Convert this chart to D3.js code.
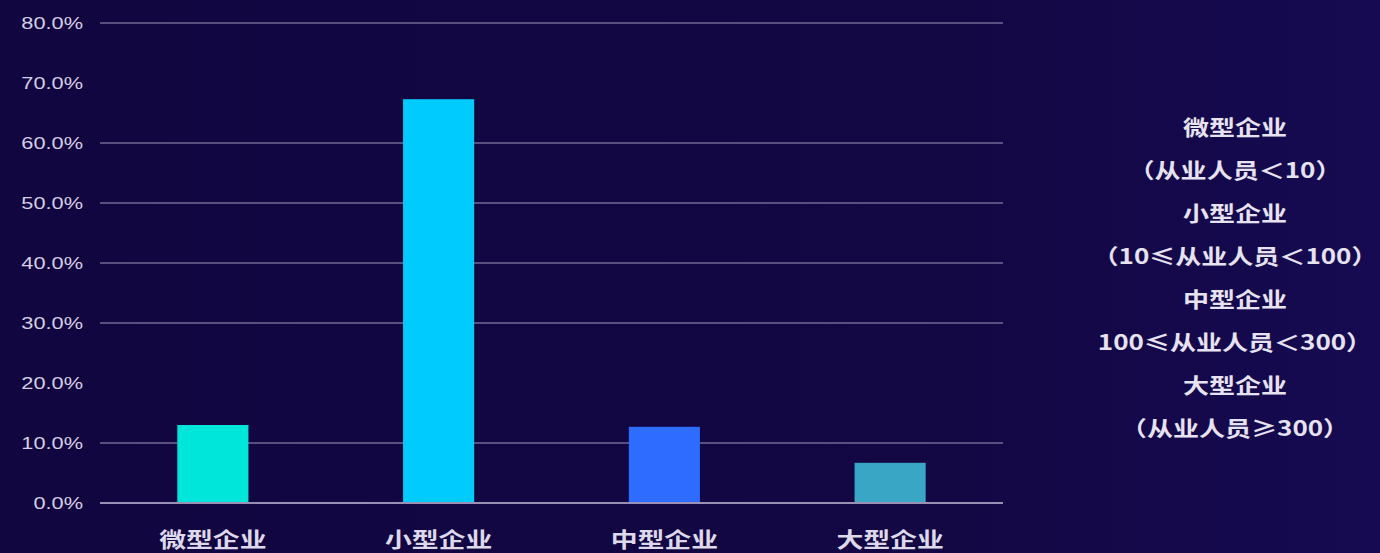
<!DOCTYPE html>
<html><head><meta charset="utf-8">
<script src="https://cdn.jsdelivr.net/npm/d3@7"></script>
<style>html,body{margin:0;padding:0;background:#130843;}svg{display:block;}</style>
</head><body>
<svg id="c" width="1380" height="553"></svg>
<script>
const categories = ["微型企业", "小型企业", "中型企业", "大型企业"];
const values = [13.0, 67.3, 12.7, 6.7];
const barColors = ["#00E6DA", "#00CBFF", "#2D6CFF", "#38A6C4"];
const yTicks = [0, 10, 20, 30, 40, 50, 60, 70, 80];
const gridTicks = [0, 10, 30, 40, 50, 60, 80];
const legendLines = ["微型企业", "（从业人员＜10）", "小型企业", "（10≤从业人员＜100）", "中型企业", "100≤从业人员＜300）", "大型企业", "（从业人员≥300）"];

const svg = d3.select("#c");
const W = 1380, H = 553;
const defs = svg.append("defs");
const g = defs.append("linearGradient").attr("id","bg").attr("x1","0").attr("x2","1").attr("y1","0").attr("y2","0");
g.append("stop").attr("offset","0").attr("stop-color","#110640");
g.append("stop").attr("offset","0.7").attr("stop-color","#130744");
g.append("stop").attr("offset","1").attr("stop-color","#160A52");
svg.append("rect").attr("width",W).attr("height",H).attr("fill","url(#bg)");

const x = d3.scaleBand().domain(categories).range([100, 1003]).paddingInner(0.685).paddingOuter(0.3425);
const y = d3.scaleLinear().domain([0, 80]).range([503, 23]);

// gridlines
svg.append("g").selectAll("line").data(gridTicks).join("line")
  .attr("x1", 100).attr("x2", 1003)
  .attr("y1", d => y(d)).attr("y2", d => y(d))
  .attr("stroke", "#8a80a8").attr("stroke-width", 2)
  .attr("stroke-opacity", d => d === 0 ? 0.95 : 0.6);

// y axis labels
const yAxis = d3.axisLeft(y).tickValues(yTicks).tickFormat(d => d.toFixed(1) + "%").tickSize(0).tickPadding(0);
const ya = svg.append("g").attr("transform", "translate(83,0)").call(yAxis);
ya.select(".domain").remove();
ya.selectAll("text").attr("fill", "#d6d0e4").attr("font-size", 17)
  .attr("font-family", "Liberation Sans, Arial, sans-serif")
  .attr("transform", "scale(1.28,1)");

// bars
svg.append("g").selectAll("rect").data(values).join("rect")
  .attr("x", (d, i) => x(categories[i]))
  .attr("width", x.bandwidth())
  .attr("y", d => y(d))
  .attr("height", d => y(0) - y(d))
  .attr("fill", (d, i) => barColors[i]);

// redraw baseline on top
svg.append("line").attr("x1",100).attr("x2",1003).attr("y1",y(0)).attr("y2",y(0))
  .attr("stroke","#9a90b6").attr("stroke-width",2);

// x axis labels
const xAxis = d3.axisBottom(x).tickSize(0).tickPadding(0);
const xa = svg.append("g").attr("transform", "translate(0,540)").call(xAxis);
xa.select(".domain").remove();
xa.selectAll("text").attr("fill", "#ddd8ea").attr("font-size", 21).attr("font-weight", "bold")
  .attr("font-family", "Noto Sans CJK SC, sans-serif").attr("dy", "0.35em")
  .attr("transform", "scale(1.28,1)");

// legend text
svg.append("g").selectAll("g").data(legendLines).join("g")
  .attr("transform", (d, i) => `translate(1235,${129 + i * 43}) scale(1.24,1)`)
  .append("text")
  .attr("text-anchor", "middle").attr("dominant-baseline", "middle")
  .attr("fill", "#e6e2f0").attr("font-size", 21).attr("font-weight", "bold")
  .attr("font-family", "Noto Sans CJK SC, sans-serif")
  .text(d => d);
</script>
</body></html>
